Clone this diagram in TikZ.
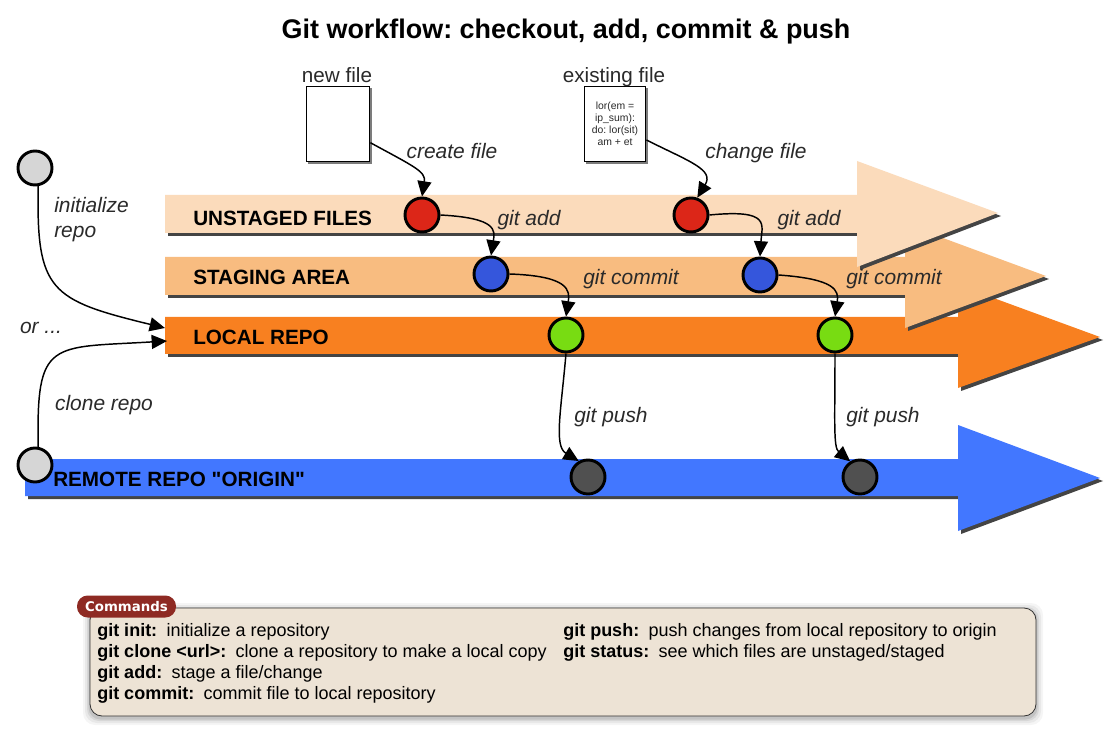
\documentclass[tikz,border=0pt]{standalone}
\usepackage{fontspec}
\setmainfont{Liberation Sans}
\newfontfamily\badgefont{DejaVu Sans}
\usetikzlibrary{arrows.meta}
\definecolor{cUnstaged}{HTML}{FBDBBB}
\definecolor{cStaging}{HTML}{F8BC80}
\definecolor{cLocal}{HTML}{F88020}
\definecolor{cRemote}{HTML}{4277FF}
\definecolor{cShadow}{HTML}{444444}
\definecolor{cRed}{HTML}{DC2618}
\definecolor{cBlue}{HTML}{3556DC}
\definecolor{cGreen}{HTML}{78DC12}
\definecolor{cDark}{HTML}{505050}
\definecolor{cGray}{HTML}{D6D6D6}
\definecolor{cPanel}{HTML}{EDE3D5}
\definecolor{cBadge}{HTML}{8E2A23}
\definecolor{cLabel}{HTML}{2A2A2A}
% x0, xhead, bar top, bar bottom, head top, head bottom, xtip, ytip, colour
\newcommand{\flowarrow}[9]{%
  \fill[cShadow,shift={(3,3)}] (#1,#3) -- (#2,#3) -- (#2,#5) -- (#7,#8) -- (#2,#6) -- (#2,#4) -- (#1,#4) -- cycle;
  \fill[#9] (#1,#3) -- (#2,#3) -- (#2,#5) -- (#7,#8) -- (#2,#6) -- (#2,#4) -- (#1,#4) -- cycle;
}
\tikzset{
  x=0.75pt,y=-0.75pt,
  commit/.style={circle,draw=black,line width=2.2pt,minimum size=25.5pt,inner sep=0pt,fill=#1},
  conn/.style={draw=black,line width=1.1pt,-{Triangle[length=11.5pt,width=10.5pt]}},
  barlabel/.style={anchor=base west,inner sep=0pt,font=\fontsize{15.5pt}{18pt}\selectfont\bfseries,text=black},
  cmdlabel/.style={anchor=base,inner sep=0pt,font=\fontsize{15.7pt}{18pt}\selectfont\itshape,text=cLabel},
  filelabel/.style={anchor=base,inner sep=0pt,font=\fontsize{15.5pt}{18pt}\selectfont,text=cLabel},
  filebox/.style={draw=black,line width=1.1pt,fill=white,minimum width=47.5pt,minimum height=56.5pt,inner sep=0pt},
  cmdtext/.style={anchor=north west,inner sep=0pt,align=left,font=\fontsize{13.5pt}{15.75pt}\selectfont,text=black},
}
\begin{document}
\frenchspacing
\begin{tikzpicture}
\useasboundingbox (0,0) rectangle (1118,734);
\fill[white] (0,0) rectangle (1118,734);

\node[inner sep=0pt,font=\fontsize{20.2pt}{24pt}\selectfont\bfseries] (title) at (566,32) {Git workflow: checkout, add, commit \& push};

% flow arrows, lowest first
\flowarrow{25}{958}{459}{496}{425}{531}{1100}{478}{cRemote}
\flowarrow{165}{958}{317}{354}{285}{388}{1100}{337}{cLocal}
\flowarrow{165}{905}{257}{295}{224}{328}{1046}{276}{cStaging}
\flowarrow{165}{857}{195}{233}{161}{267}{998}{213}{cUnstaged}

\coordinate (localA) at (165,328);
\coordinate (localB) at (167,341);

\node[barlabel] (lblU) at (193,226) {UNSTAGED FILES};
\node[barlabel] (lblS) at (193,285) {STAGING AREA};
\node[barlabel] (lblL) at (193,344.5) {LOCAL REPO};
\node[barlabel] (lblR) at (53,486) {\addfontfeature{Ligatures=TeXOff}REMOTE REPO "ORIGIN"};

% files
\fill[cShadow!70] (308,88) rectangle (372,164);
\fill[cShadow!70] (586,88) rectangle (648,164);
\node[filebox] (newfile) at (338,124) {};
\node[filebox,minimum width=46pt] (exfile) at (615,124) {};
\node[inner sep=0pt,align=center,font=\fontsize{7.8pt}{9pt}\selectfont,text=cLabel] (code) at (615,123.5) {lor(em =\\ip\_sum):\\do: lor(sit)\\am + et};
\node[filelabel] (newlbl) at (337,83) {new file};
\node[filelabel] (exlbl) at (614,83) {existing file};

% commits
\node[commit=cGray] (c1) at (35,168) {};
\node[commit=cGray] (c2) at (35,465) {};
\node[commit=cRed] (r1) at (422,215) {};
\node[commit=cRed] (r2) at (691,215) {};
\node[commit=cBlue] (b1) at (491,274) {};
\node[commit=cBlue] (b2) at (760,275) {};
\node[commit=cGreen] (g1) at (566,335) {};
\node[commit=cGreen] (g2) at (835,335) {};
\node[commit=cDark] (d1) at (588,477) {};
\node[commit=cDark] (d2) at (860,477) {};

% connectors
\draw[conn] (newfile.-30) .. controls +(44,24) and +(4,-25) .. (r1.north);
\draw[conn] (exfile.-27) .. controls +(44,22) and +(17,-28) .. (r2.70);
\draw[conn] (r1.east) .. controls +(57,3) and +(4,-25) .. (b1.north);
\draw[conn] (r2.east) .. controls +(62,-6) and +(2,-32) .. (b2.north);
\draw[conn] (b1.east) .. controls +(60,2) and +(4,-26) .. (g1.north);
\draw[conn] (b2.east) .. controls +(57,4) and +(4,-26) .. (g2.north);
\draw[conn] (g1.south) .. controls +(-5,58) and +(-25,-15) .. (d1.120);
\draw[conn] (g2.south) .. controls +(0,68) and +(-17,-14) .. (d2.122);
\draw[conn] (c1.-80) .. controls +(-2,105) and +(-115,-28) .. (localA);
\draw[conn] (c2.80) .. controls +(-2,-108) and +(-117,7) .. (localB);

% connector labels
\node[cmdlabel] (t1) at (452,159) {create file};
\node[cmdlabel] (t2) at (756,159) {change file};
\node[cmdlabel] (t3) at (529,226) {git add};
\node[cmdlabel] (t4) at (809,226) {git add};
\node[cmdlabel] (t5) at (631,285) {git commit};
\node[cmdlabel] (t6) at (894,285) {git commit};
\node[cmdlabel] (t7) at (611,422) {git push};
\node[cmdlabel] (t8) at (883,422) {git push};
\node[cmdlabel] (t9) at (104,411) {clone repo};
\node[cmdlabel] (t10) at (41,334) {or ...};
\node[cmdlabel,anchor=base west] (t11) at (54,213) {initialize};
\node[cmdlabel,anchor=base west] (t12) at (54,238) {repo};

% commands panel
\foreach \g/\o in {7/0.04,5/0.05,3/0.07,1.5/0.09}{
  \fill[black,opacity=\o,rounded corners=9pt] (90-\g,608+2-\g) rectangle (1036+\g,716+2+\g);
}
\node[draw=black!80,line width=0.6pt,fill=cPanel,rounded corners=9pt,minimum width=709.5pt,minimum height=81pt,inner sep=0pt] (panel) at (563,662) {};
\node[fill=cBadge,rounded corners=8pt,minimum width=74.25pt,minimum height=16.5pt,inner sep=0pt,text=white,font=\badgefont\fontsize{10pt}{12pt}\selectfont\bfseries] (badge) at (126.5,606.5) {Commands};
\node[cmdtext] (left) at (97,623) {\textbf{git init:}\hspace{7pt}initialize a repository\\
\textbf{git clone <url>:}\hspace{7pt}clone a repository to make a local copy\\
\textbf{git add:}\hspace{7pt}stage a file/change\\
\textbf{git commit:}\hspace{7pt}commit file to local repository};
\node[cmdtext] (right) at (563,623) {\textbf{git push:}\hspace{7pt}push changes from local repository to origin\\
\textbf{git status:}\hspace{7pt}see which files are unstaged/staged};
\end{tikzpicture}
\end{document}
